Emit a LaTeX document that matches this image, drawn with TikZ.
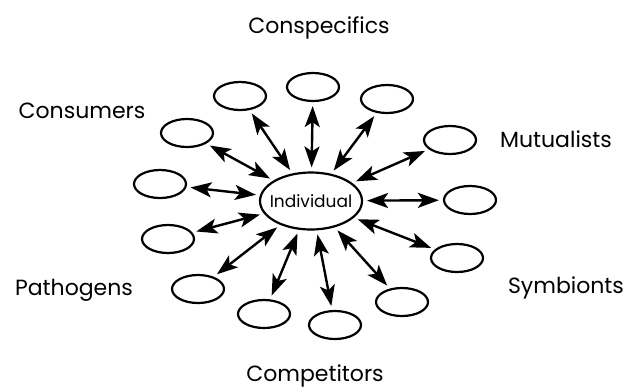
\documentclass[tikz,border=0pt]{standalone}
\usepackage{fontspec}
\setmainfont{Poppins}
\usetikzlibrary{arrows.meta,shapes.geometric}
\begin{document}
\begin{tikzpicture}[x=1pt,y=-1pt,
  partner/.style={draw,ellipse,line width=2.2pt,minimum width=52pt,minimum height=28pt,inner sep=0pt},
  focal/.style={draw,ellipse,line width=2.2pt,minimum width=102pt,minimum height=57pt,inner sep=0pt,font=\fontsize{17}{17}\selectfont},
  group/.style={font=\fontsize{22}{22}\selectfont,inner sep=0pt},
  head/.tip={Stealth[length=21pt,width=15pt,inset=5pt]},
  link/.style={line width=2.4pt,head-head,shorten <=4pt,shorten >=4pt}]
\useasboundingbox (0,0) rectangle (628,389);

% central individual; the label is boxed at zero width so the ellipse keeps its size
\node[focal] (ind) at (311,201) {\makebox[0pt]{Individual}};

% interacting partners, clockwise from the upper left
\node[partner] (p1)  at (240,96)  {};
\node[partner] (p2)  at (313,87)  {};
\node[partner] (p3)  at (387,99)  {};
\node[partner] (p4)  at (450,140) {};
\node[partner] (p5)  at (470,200) {};
\node[partner] (p6)  at (457,258) {};
\node[partner] (p7)  at (402,302) {};
\node[partner] (p8)  at (335,325) {};
\node[partner] (p9)  at (264,314) {};
\node[partner] (p10) at (198,289) {};
\node[partner] (p11) at (168,239) {};
\node[partner] (p12) at (160,184) {};
\node[partner] (p13) at (187,133) {};

\foreach \i in {1,...,13}
  \draw[link] (ind) -- (p\i);

% categories of partners
\node[group] (conspecifics) at (319,28)  {Conspecifics};
\node[group] (consumers)    at (82,111)  {Consumers};
\node[group] (mutualists)   at (556,139) {Mutualists};
\node[group] (pathogens)    at (74,290)  {Pathogens};
\node[group] (symbionts)    at (566,288) {Symbionts};
\node[group] (competitors)  at (315,376) {Competitors};
\end{tikzpicture}
\end{document}
